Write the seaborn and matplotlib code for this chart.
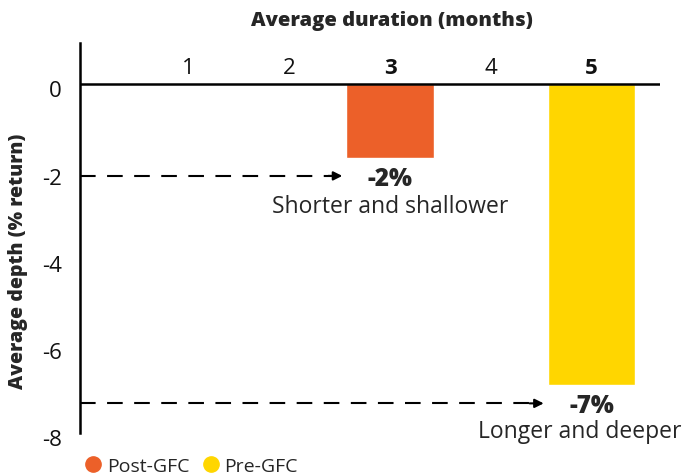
import pandas as pd
import seaborn as sns
import matplotlib.pyplot as plt
from matplotlib.lines import Line2D
import matplotlib.transforms as mtransforms

# data
durations = [3, 5]
depths = [-1.68, -6.9]
periods = ['Post-GFC', 'Pre-GFC']
duration_order = [1, 2, 3, 4, 5]
depth_ticks = [0, -2, -4, -6, -8]
labels_pct = ['-2%', '-7%']
labels_desc = ['Shorter and shallower', 'Longer and deeper']
arrow_levels = [-2.1, -7.32]

colors = {'Post-GFC': '#EC6029', 'Pre-GFC': '#FFD600'}

df = pd.DataFrame({'duration': durations, 'depth': depths, 'period': periods})

sns.set_theme(style='white')
plt.rcParams['font.family'] = ['Open Sans', 'DejaVu Sans']
plt.rcParams['axes.unicode_minus'] = False

fig = plt.figure(figsize=(6.86, 4.77), dpi=100)
ax = fig.add_axes([80 / 686, 1 - 434 / 477, 580 / 686, 390 / 477])

bar_w = 0.87
sns.barplot(data=df, x='duration', y='depth', hue='period', order=duration_order,
            palette=colors, width=bar_w, dodge=False, legend=False, ax=ax,
            saturation=1)

ax.set_xlim(-1.08, 4.68)
ax.set_ylim(-8, 0.95)

# spines
for s in ['top', 'right', 'bottom']:
    ax.spines[s].set_visible(False)
ax.spines['left'].set_color('black')
ax.spines['left'].set_linewidth(1.8)
ax.axhline(0, color='black', lw=1.8, zorder=3)

# x ticks on top, inside the axes
ax.set_xlabel('')
ax.xaxis.set_ticks_position('top')
ax.tick_params(axis='x', top=False, bottom=False, labeltop=True, labelbottom=False,
               length=0, pad=-25, labelsize=16, labelcolor='#111111')
for lab in ax.get_xticklabels():
    if lab.get_text() in ('3', '5'):
        lab.set_fontweight('bold')

# y ticks
ax.set_yticks(depth_ticks)
ax.set_yticklabels([str(t) for t in depth_ticks])
ax.tick_params(axis='y', left=False, length=0, pad=13, labelsize=16, labelcolor='#111111')
offset = mtransforms.ScaledTranslation(0, -4 / 100, fig.dpi_scale_trans)
for lab in ax.get_yticklabels():
    lab.set_transform(lab.get_transform() + offset)

ax.set_ylabel('Average depth (% return)', fontsize=14, fontweight='heavy')
ax.yaxis.set_label_coords(-0.09, 0.444)

fig.text(392 / 686, 1 - 21 / 477, 'Average duration (months)', ha='center', va='center',
         fontsize=14.5, fontweight='heavy')

# dashed arrows and annotations
x_left = ax.get_xlim()[0]
for d, lvl, pct in zip(durations, arrow_levels, labels_pct):
    p = duration_order.index(d)
    tip = p - bar_w / 2 - 0.04
    ax.plot([x_left, tip - 0.08], [lvl, lvl], color='black', lw=1.5,
            ls=(0, (7.5, 5.5)), clip_on=False)
    ax.annotate('', xy=(tip, lvl), xytext=(tip - 0.14, lvl),
                arrowprops=dict(arrowstyle='-|>', color='black', lw=1.5,
                                mutation_scale=13, shrinkA=0, shrinkB=0))
    ax.text(p, lvl - 0.05, pct, ha='center', va='center', fontsize=17.5,
            fontweight='heavy')

ax.text(2.0, -2.78, labels_desc[0], ha='center', va='center', fontsize=16.5)
ax.text(3.88, -7.96, labels_desc[1], ha='center', va='center', fontsize=16.5,
        clip_on=False)

handles = [Line2D([], [], marker='o', ls='', color=colors[p], markersize=11) for p in periods]
fig.legend(handles, periods, loc='center left', bbox_to_anchor=(74 / 686, 1 - 467 / 477),
           ncol=2, frameon=False, handletextpad=0.2, columnspacing=0.6, handlelength=1,
           borderpad=0, fontsize=14)

fig.savefig('out.png', dpi=100)
